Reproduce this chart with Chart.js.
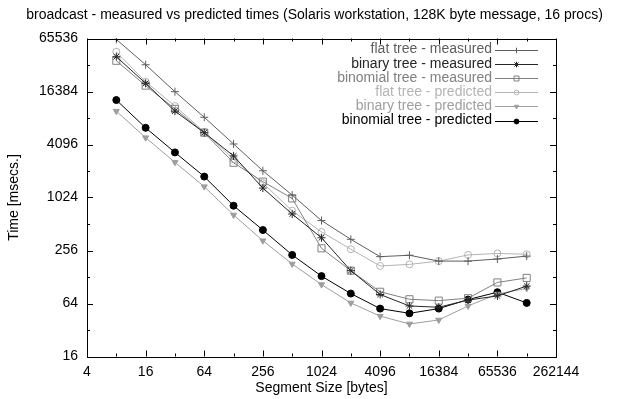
<!DOCTYPE html>
<html>
<head>
<meta charset="utf-8">
<script src="https://cdn.jsdelivr.net/npm/chart.js@4/dist/chart.umd.min.js"></script>
<style>
  html, body { margin: 0; padding: 0; background: #fff; }
  #wrap { width: 629px; height: 399px; }
</style>
</head>
<body>
<div id="wrap"><canvas id="bcast"></canvas></div>
<script>
// segment sizes in bytes
const segmentSizes = [8, 16, 32, 64, 128, 256, 512, 1024, 2048, 4096, 8192, 16384, 32768, 65536, 131072];

// times in msecs
const flatMeasured     = [64000, 33000, 16300, 8350, 4150, 2060, 1090, 560, 343, 218, 226, 194, 194, 205, 221];
const binaryMeasured   = [40700, 20300, 9800, 5580, 3040, 1310, 665, 357, 151, 81, 60, 58, 70, 78, 101];
const binomialMeasured = [36600, 19100, 10400, 5580, 2540, 1550, 1000, 271, 151, 87, 71.5, 69, 73.5, 111, 125];
const flatPredicted    = [46300, 21100, 11200, 5700, 2780, 1490, 724, 416, 265, 171, 178, 194, 228, 237, 232];
const binaryPredicted  = [9800, 4900, 2570, 1360, 648, 331, 180, 105, 65, 46, 37.5, 41.6, 60, 82, 95];
const binomialPredicted = [13100, 6340, 3330, 1770, 826, 437, 228, 131, 83, 56, 49.5, 56, 71, 86, 65];

// axis ticks (every power of two, labels every power of four)
const xTicks = [4, 8, 16, 32, 64, 128, 256, 512, 1024, 2048, 4096, 8192, 16384, 32768, 65536, 131072, 262144];
const xTickLabels = ['4', '16', '64', '256', '1024', '4096', '16384', '65536', '262144'];
const yTicks = [16, 32, 64, 128, 256, 512, 1024, 2048, 4096, 8192, 16384, 32768, 65536];
const yTickLabels = ['16', '64', '256', '1024', '4096', '16384', '65536'];

const FONT = '"Liberation Sans", Arial, Helvetica, sans-serif';
Chart.defaults.font.family = FONT;
Chart.defaults.font.size = 14;
Chart.defaults.color = '#000';

// gnuplot style frame with inward tick marks on all four sides
const framePlugin = {
    id: 'frame',
    afterDatasetsDraw(chart) {
        const { ctx, chartArea: a, scales } = chart;
        ctx.save();
        ctx.strokeStyle = '#000';
        ctx.lineWidth = 1;
        ctx.strokeRect(Math.round(a.left) + 0.5, Math.round(a.top) + 0.5,
            Math.round(a.right - a.left), Math.round(a.bottom - a.top));
        ctx.beginPath();
        xTicks.forEach(v => {
            const px = Math.round(scales.x.getPixelForValue(v)) + 0.5;
            const len = xTickLabels.includes(String(v)) ? 6 : 3;
            ctx.moveTo(px, a.bottom); ctx.lineTo(px, a.bottom - len);
            ctx.moveTo(px, a.top); ctx.lineTo(px, a.top + len);
        });
        yTicks.forEach(v => {
            const py = Math.round(scales.y.getPixelForValue(v)) + 0.5;
            const len = yTickLabels.includes(String(v)) ? 6 : 3;
            ctx.moveTo(a.left, py); ctx.lineTo(a.left + len, py);
            ctx.moveTo(a.right, py); ctx.lineTo(a.right - len, py);
        });
        ctx.stroke();
        ctx.restore();
    }
};

// legend inside the plot, text right aligned, sample on the right
const legendPlugin = {
    id: 'insideLegend',
    afterDraw(chart) {
        const ctx = chart.ctx;
        const a = chart.chartArea;
        const textRight = a.right - 64;
        const lineStart = a.right - 61;
        const lineEnd = a.right - 18;
        ctx.save();
        ctx.font = '14px ' + FONT;
        ctx.textAlign = 'right';
        ctx.textBaseline = 'middle';
        chart.data.datasets.forEach((ds, i) => {
            const y = a.top + 11 + i * 14.2;
            ctx.fillStyle = ds.borderColor;
            ctx.fillText(ds.label, textRight, y);
            ctx.strokeStyle = ds.borderColor;
            ctx.lineWidth = 1;
            ctx.beginPath();
            ctx.moveTo(lineStart, Math.round(y) + 0.5);
            ctx.lineTo(lineEnd, Math.round(y) + 0.5);
            ctx.stroke();
            ctx.fillStyle = ds.pointBackgroundColor;
            Chart.helpers.drawPoint(ctx, {
                pointStyle: ds.pointStyle,
                rotation: ds.pointRotation || 0,
                radius: ds.pointRadius * 0.7,
                borderWidth: 1
            }, (lineStart + lineEnd) / 2, Math.round(y) + 0.5);
        });
        ctx.restore();
    }
};

function series(label, values, color, style, radius, fill, rotation) {
    return {
        label: label,
        data: segmentSizes.map((s, i) => ({ x: s, y: values[i] })),
        borderColor: color,
        backgroundColor: color,
        borderWidth: 1,
        pointStyle: style,
        pointRadius: radius,
        pointBorderWidth: 1,
        pointBorderColor: color,
        pointBackgroundColor: fill ? color : 'rgba(255,255,255,0)',
        pointRotation: rotation || 0,
        tension: 0
    };
}

const chart = new Chart(document.getElementById('bcast'), {
    type: 'line',
    data: {
        datasets: [
            series('flat tree - measured', flatMeasured, '#5e5e5e', 'cross', 4, false),
            series('binary tree - measured', binaryMeasured, '#262626', 'star', 4, false),
            series('binomial tree - measured', binomialMeasured, '#808080', 'rect', 5, false),
            series('flat tree - predicted', flatPredicted, '#b4b4b4', 'circle', 3.5, false),
            series('binary tree - predicted', binaryPredicted, '#9e9e9e', 'triangle', 3.5, true, 180),
            series('binomial tree - predicted', binomialPredicted, '#000000', 'circle', 3.5, true)
        ]
    },
    options: {
        responsive: true,
        maintainAspectRatio: false,
        animation: false,
        devicePixelRatio: 1,
        layout: { padding: 0 },
        plugins: {
            legend: { display: false },
            tooltip: { enabled: false },
            title: {
                display: true,
                text: 'broadcast - measured vs predicted times (Solaris workstation, 128K byte message, 16 procs)',
                color: '#000',
                font: { size: 14, weight: 'normal' },
                padding: { top: 7, bottom: 14.7 }
            }
        },
        scales: {
            x: {
                type: 'logarithmic',
                position: 'bottom',
                min: 4,
                max: 262144,
                afterBuildTicks: s => { s.ticks = xTicks.map(v => ({ value: v })); },
                afterFit: s => { s.height = 42.5; },
                grid: { display: false, drawTicks: false },
                border: { display: false },
                ticks: {
                    autoSkip: false,
                    maxRotation: 0,
                    padding: 7,
                    color: '#000',
                    callback: v => xTickLabels.includes(String(v)) ? String(v) : ''
                },
                title: {
                    display: true,
                    text: 'Segment Size [bytes]',
                    color: '#000',
                    padding: { top: 0, bottom: 2 }
                }
            },
            y: {
                type: 'logarithmic',
                position: 'left',
                min: 16,
                max: 65536,
                afterBuildTicks: s => { s.ticks = yTicks.map(v => ({ value: v })); },
                afterFit: s => { s.width = 87; },
                grid: { display: false, drawTicks: false },
                border: { display: false },
                ticks: {
                    autoSkip: false,
                    padding: 9,
                    color: '#000',
                    callback: v => yTickLabels.includes(String(v)) ? String(v) : ''
                },
                title: {
                    display: true,
                    text: 'Time [msecs.]',
                    color: '#000',
                    padding: { top: 6, bottom: 0 }
                }
            },
            yR: {
                type: 'linear',
                position: 'right',
                display: true,
                afterFit: s => { s.width = 73; },
                grid: { display: false, drawTicks: false },
                border: { display: false },
                ticks: { display: false }
            }
        }
    },
    plugins: [framePlugin, legendPlugin]
});
</script>
</body>
</html>
